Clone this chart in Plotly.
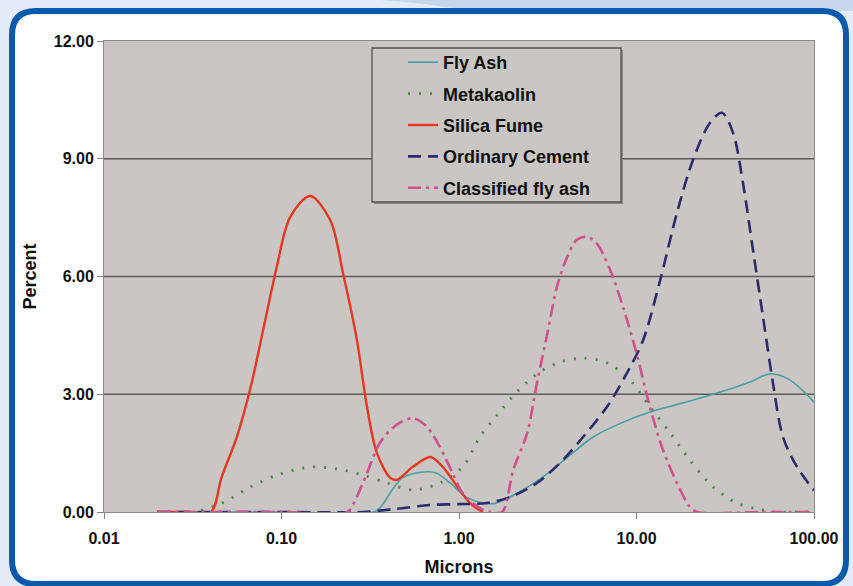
import plotly.graph_objects as go

# ---------------- data ----------------
fly_ash_x = [0.02, 0.1, 0.33, 0.358, 0.42, 0.48, 0.63, 0.75, 0.89, 1.1, 1.36, 1.6, 2.12, 2.96, 4.1, 5.7, 8.4, 11.9, 18.3, 28.5, 43.6, 56.5, 73.3, 100]
fly_ash_y = [0, 0, 0, 0.1, 0.56, 0.87, 1.02, 0.99, 0.74, 0.38, 0.23, 0.22, 0.48, 0.89, 1.40, 1.91, 2.29, 2.55, 2.78, 3.03, 3.31, 3.52, 3.36, 2.80]

metakaolin_x = [0.02, 0.032, 0.04, 0.049, 0.067, 0.094, 0.132, 0.16, 0.222, 0.288, 0.393, 0.55, 0.78, 1.05, 1.31, 1.64, 2.12, 2.86, 3.71, 5.0, 6.82, 9.19, 11.9, 15.5, 20.0, 27.0, 36.8, 47.8, 60, 80, 100]
metakaolin_y = [0, 0, 0.12, 0.28, 0.64, 0.94, 1.12, 1.15, 1.07, 0.94, 0.74, 0.56, 0.74, 1.15, 1.91, 2.47, 3.06, 3.57, 3.82, 3.92, 3.80, 3.36, 2.68, 2.01, 1.32, 0.64, 0.23, 0.08, 0, 0, 0]

silica_x = [0.02, 0.03, 0.04, 0.046, 0.056, 0.067, 0.081, 0.094, 0.112, 0.145, 0.188, 0.222, 0.266, 0.303, 0.345, 0.41, 0.445, 0.55, 0.69, 0.81, 0.98, 1.15, 1.36]
silica_y = [0, 0, 0, 0.89, 1.91, 3.18, 4.89, 6.24, 7.52, 8.05, 7.44, 6.09, 4.38, 2.68, 1.50, 0.87, 0.82, 1.15, 1.40, 1.15, 0.64, 0.23, 0]

cement_x = [0.02, 0.1, 0.288, 0.445, 0.69, 1.0, 1.44, 1.94, 2.75, 3.71, 5.0, 6.82, 8.83, 10.9, 13.6, 16.9, 20.8, 25.9, 30.3, 35.0, 39.8, 45.3, 51.6, 58.7, 66.9, 80.2, 100]
cement_y = [0, 0, 0, 0.08, 0.18, 0.2, 0.23, 0.38, 0.74, 1.25, 1.91, 2.68, 3.54, 4.38, 5.91, 7.62, 8.97, 9.91, 10.17, 9.66, 8.38, 6.68, 4.97, 3.29, 1.91, 1.15, 0.55]

classified_x = [0.02, 0.1, 0.235, 0.26, 0.303, 0.358, 0.445, 0.551, 0.66, 0.78, 0.92, 1.05, 1.31, 1.5, 1.75, 2.02, 2.42, 2.75, 3.15, 3.56, 4.07, 4.6, 5.25, 5.95, 7.1, 8.4, 10.0, 11.9, 14.1, 16.9, 20.0, 22.0, 50, 100]
classified_y = [0, 0, 0, 0.3, 0.99, 1.76, 2.22, 2.39, 2.17, 1.66, 0.99, 0.48, 0.1, 0, 0, 1.07, 2.01, 3.29, 4.56, 5.73, 6.5, 6.93, 7.01, 6.85, 6.17, 5.22, 4.05, 2.68, 1.58, 0.74, 0.13, 0, 0, 0]

x_tickvals = [0.01, 0.1, 1, 10, 100]
x_ticktext = ["0.01", "0.10", "1.00", "10.00", "100.00"]
y_tickvals = [0, 3, 6, 9, 12]
y_ticktext = ["0.00", "3.00", "6.00", "9.00", "12.00"]
grid_levels = [3, 6, 9]

# ---------------- layout helpers ----------------
W, H = 853, 586
L, R, T, B = 104, 39, 41, 74
PW, PH = W - L - R, H - T - B


def px(x):
    return (x - L) / PW


def py(y):
    return (H - B - y) / PH


FONT = "Liberation Sans, Arial, sans-serif"

fig = go.Figure()

series = [
    ("Fly Ash", fly_ash_x, fly_ash_y, dict(color="#4d9ea3", width=1.6, dash="solid")),
    ("Metakaolin", metakaolin_x, metakaolin_y, dict(color="#4b8a3c", width=2.8, dash="2px,9px")),
    ("Silica Fume", silica_x, silica_y, dict(color="#e6371f", width=2.4, dash="solid")),
    ("Ordinary Cement", cement_x, cement_y, dict(color="#2c2b6c", width=2.6, dash="13px,7px")),
    ("Classified fly ash", classified_x, classified_y, dict(color="#d2508e", width=2.6, dash="13px,5px,3px,5px")),
]
for i, (name, xs, ys, line) in enumerate(series):
    fig.add_trace(go.Scatter(
        x=xs, y=ys, name=name, mode="lines",
        line=dict(shape="spline", smoothing=0.9, **line),
        legendgroup=f"g{i}",
    ))

shapes = []
fx0, fx1, fy0, fy1, r = 12, 846, 11, 584, 24


def rr_path(x0, y0, x1, y1, r):
    return (f"M{px(x0 + r)},{py(y0)} L{px(x1 - r)},{py(y0)} "
            f"Q{px(x1)},{py(y0)} {px(x1)},{py(y0 + r)} "
            f"L{px(x1)},{py(y1 - r)} Q{px(x1)},{py(y1)} {px(x1 - r)},{py(y1)} "
            f"L{px(x0 + r)},{py(y1)} Q{px(x0)},{py(y1)} {px(x0)},{py(y1 - r)} "
            f"L{px(x0)},{py(y0 + r)} Q{px(x0)},{py(y0)} {px(x0 + r)},{py(y0)} Z")


outer = (f"M{px(0)},{py(0)} L{px(W)},{py(0)} L{px(W)},{py(H + 10)} L{px(0)},{py(H + 10)} Z "
         + rr_path(fx0, fy0, fx1, fy1, r))
shapes.append(dict(type="path", xref="paper", yref="paper", path=outer,
                   fillcolor="#e2ebf6", line=dict(width=0), layer="below",
                   fillrule="evenodd"))
band = (f"M{px(380)},{py(0)} L{px(W)},{py(0)} L{px(W)},{py(fy0)} "
        f"L{px(470)},{py(fy0)} Q{px(420)},{py(2)} {px(380)},{py(0)} Z")
shapes.append(dict(type="path", xref="paper", yref="paper", path=band,
                   fillcolor="#c6d6eb", line=dict(width=0), layer="below"))
shapes.append(dict(type="path", xref="paper", yref="paper",
                   path=rr_path(fx0, fy0, fx1, fy1, r),
                   line=dict(color="#0b5aab", width=6), layer="below"))

for g in grid_levels:
    shapes.append(dict(type="line", xref="paper", yref="y", x0=0, x1=1, y0=g, y1=g,
                       line=dict(color="#5e5c5a", width=1.6), layer="below"))

lx0, ly0, lx1, ly1 = 372, 48, 621, 202
shapes.append(dict(type="rect", xref="paper", yref="paper",
                   x0=px(lx0 + 2), x1=px(lx1 + 2), y0=py(ly1 + 2), y1=py(ly0 + 2),
                   fillcolor="#8a8886", line=dict(width=0), layer="above"))
shapes.append(dict(type="rect", xref="paper", yref="paper",
                   x0=px(lx0), x1=px(lx1), y0=py(ly1), y1=py(ly0),
                   fillcolor="#c9c6c3", line=dict(color="#555350", width=1.3), layer="above"))

fig.update_layout(
    width=W, height=H,
    margin=dict(l=L, r=R, t=T, b=B, pad=0),
    paper_bgcolor="#ffffff",
    plot_bgcolor="#c9c6c3",
    font=dict(family=FONT, size=16, color="#111111", weight="bold"),
    shapes=shapes,
    showlegend=True,
    legend=dict(
        x=px(403), y=py(44), xanchor="left", yanchor="top",
        bgcolor="rgba(0,0,0,0)", borderwidth=0,
        font=dict(family=FONT, size=18, color="#111111", weight="bold"),
        tracegroupgap=5, traceorder="grouped",
    ),
    xaxis=dict(
        type="log", range=[-2, 2],
        tickvals=x_tickvals, ticktext=x_ticktext,
        showgrid=False, zeroline=False,
        showline=True, linecolor="#8c8a88", linewidth=1, mirror=True,
        ticks="outside", ticklen=6, tickcolor="#808080",
        ticklabelstandoff=6,
        tickfont=dict(family=FONT, size=16, color="#111111", weight="bold"),
        title=dict(text="Microns", standoff=14,
                   font=dict(family=FONT, size=18, color="#111111", weight="bold")),
    ),
    yaxis=dict(
        range=[0, 12],
        tickvals=y_tickvals, ticktext=y_ticktext,
        showgrid=False, zeroline=False,
        showline=True, linecolor="#8c8a88", linewidth=1, mirror=True,
        ticks="outside", ticklen=6, tickcolor="#808080",
        tickfont=dict(family=FONT, size=16, color="#111111", weight="bold"),
        title=dict(text="Percent", standoff=12,
                   font=dict(family=FONT, size=18, color="#111111", weight="bold")),
    ),
)

fig.write_html("out.html", config={"displayModeBar": False},
               post_script="document.body.style.margin='0px';document.body.style.overflow='hidden';")
